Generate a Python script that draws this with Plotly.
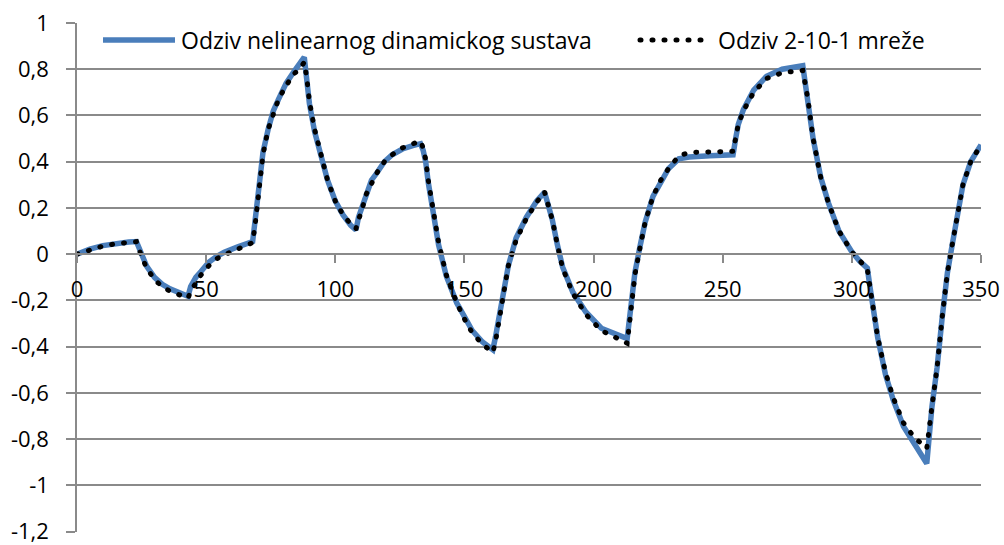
import plotly.graph_objects as go

# Sample index (time step k)
k = [0, 5, 10, 15, 20, 23,
     25, 27, 30, 33, 36, 40, 43,
     44, 46, 48, 51, 54, 57, 62, 66, 68,
     69, 70, 71, 72, 74, 76, 78, 81, 84, 86, 88,
     89, 90, 92, 95, 97, 100, 103, 106, 108,
     109, 110, 112, 114, 116, 119, 122, 126, 130, 133,
     134, 135, 136, 138, 140, 143, 147, 150, 153, 157, 161,
     162, 163, 165, 167, 170, 174, 178, 181,
     182, 184, 186, 188, 192, 197, 203, 208, 213,
     214, 216, 218, 220, 223, 226, 229, 233, 237, 245, 254,
     255, 256, 258, 262, 267, 273, 281,
     282, 283, 285, 288, 291, 295, 300, 303, 306,
     307, 308, 310, 313, 316, 320, 324, 327, 329,
     331, 333, 335, 337, 339, 341, 343, 346, 350]

# Response of the nonlinear dynamic system
y_sustav = [0.0, 0.022, 0.037, 0.047, 0.053, 0.055,
            -0.005, -0.053, -0.10, -0.13, -0.15, -0.172, -0.182,
            -0.14, -0.10, -0.075, -0.035, -0.01, 0.008, 0.031, 0.048, 0.055,
            0.15, 0.26, 0.36, 0.44, 0.54, 0.62, 0.67, 0.74, 0.79, 0.825, 0.852,
            0.75, 0.65, 0.53, 0.40, 0.32, 0.23, 0.17, 0.125, 0.105,
            0.16, 0.19, 0.265, 0.32, 0.35, 0.40, 0.43, 0.455, 0.47, 0.478,
            0.45, 0.40, 0.31, 0.16, 0.04, -0.095, -0.21, -0.27, -0.33, -0.38, -0.413,
            -0.36, -0.30, -0.155, -0.05, 0.07, 0.16, 0.23, 0.268,
            0.23, 0.15, 0.04, -0.055, -0.165, -0.25, -0.32, -0.345, -0.365,
            -0.27, -0.08, 0.035, 0.14, 0.25, 0.315, 0.37, 0.413, 0.42, 0.426, 0.43,
            0.50, 0.56, 0.625, 0.71, 0.77, 0.80, 0.815,
            0.74, 0.67, 0.50, 0.33, 0.22, 0.10, 0.01, -0.03, -0.06,
            -0.14, -0.22, -0.36, -0.52, -0.63, -0.745, -0.82, -0.87, -0.905,
            -0.66, -0.49, -0.27, -0.08, 0.05, 0.19, 0.30, 0.40, 0.473]

# Output of the 2-10-1 neural network
y_mreza = [0.0, 0.02, 0.035, 0.045, 0.052, 0.054,
           -0.01, -0.06, -0.11, -0.14, -0.16, -0.18, -0.19,
           -0.16, -0.12, -0.09, -0.05, -0.02, -0.003, 0.02, 0.04, 0.05,
           0.13, 0.24, 0.34, 0.43, 0.54, 0.61, 0.67, 0.73, 0.78, 0.80, 0.83,
           0.76, 0.66, 0.54, 0.40, 0.32, 0.23, 0.17, 0.13, 0.11,
           0.15, 0.18, 0.26, 0.31, 0.35, 0.40, 0.43, 0.46, 0.48, 0.49,
           0.46, 0.41, 0.32, 0.17, 0.05, -0.09, -0.21, -0.28, -0.34, -0.39, -0.425,
           -0.38, -0.31, -0.16, -0.05, 0.06, 0.155, 0.225, 0.27,
           0.23, 0.15, 0.04, -0.06, -0.17, -0.26, -0.33, -0.36, -0.385,
           -0.29, -0.09, 0.03, 0.14, 0.25, 0.32, 0.37, 0.425, 0.44, 0.443, 0.445,
           0.50, 0.56, 0.62, 0.70, 0.76, 0.785, 0.795,
           0.74, 0.67, 0.50, 0.33, 0.22, 0.10, 0.01, -0.03, -0.065,
           -0.14, -0.22, -0.36, -0.51, -0.62, -0.73, -0.79, -0.82, -0.84,
           -0.66, -0.49, -0.27, -0.08, 0.05, 0.19, 0.30, 0.40, 0.473]

name_sustav = "Odziv nelinearnog dinamickog sustava"
name_mreza = "Odziv 2-10-1 mreže"

y_ticks = [1, 0.8, 0.6, 0.4, 0.2, 0, -0.2, -0.4, -0.6, -0.8, -1, -1.2]
y_tick_text = ["1", "0,8", "0,6", "0,4", "0,2", "0", "-0,2", "-0,4", "-0,6", "-0,8", "-1", "-1,2"]
x_ticks = [0, 50, 100, 150, 200, 250, 300, 350]
x_tick_text = ["0", "50", "100", "150", "200", "250", "300", "350"]

BLUE = "#4A7EBB"
GRID = "#8A8A8A"
FONT = "'Open Sans', Lato, sans-serif"
FSIZE = 22
DOTS = "1px,11px"

fig = go.Figure()
fig.add_trace(go.Scatter(x=k, y=y_sustav, mode="lines", name=name_sustav,
                         line=dict(color=BLUE, width=5.5), showlegend=False))
fig.add_trace(go.Scatter(x=k, y=y_mreza, mode="lines", name=name_mreza,
                         line=dict(color="black", width=5, dash=DOTS),
                         showlegend=False))

# Legend: line samples with their labels along the top of the plot
leg_y = (532 - 40) / 509
fig.add_shape(type="line", xref="paper", yref="paper",
              x0=(103 - 77) / 904, x1=(175 - 77) / 904, y0=leg_y, y1=leg_y,
              line=dict(color=BLUE, width=5.5))
fig.add_shape(type="line", xref="paper", yref="paper",
              x0=(640 - 77) / 904, x1=(706 - 77) / 904, y0=leg_y, y1=leg_y,
              line=dict(color="black", width=5, dash=DOTS))
fig.add_annotation(text=name_sustav, xref="paper", yref="paper",
                   x=(179 - 77) / 904, y=leg_y,
                   xanchor="left", yanchor="middle", showarrow=False,
                   font=dict(size=23, color="black", family=FONT))
fig.add_annotation(text=name_mreza, xref="paper", yref="paper",
                   x=(716 - 77) / 904, y=leg_y,
                   xanchor="left", yanchor="middle", showarrow=False,
                   font=dict(size=23, color="black", family=FONT))

fig.update_layout(
    width=1004, height=545,
    margin=dict(l=77, r=23, t=23, b=13, autoexpand=False),
    paper_bgcolor="white", plot_bgcolor="white",
    font=dict(family=FONT, size=FSIZE, color="black"),
    showlegend=False,
)
fig.update_xaxes(
    range=[0, 350], tickvals=x_ticks, ticktext=x_tick_text,
    showgrid=False, zeroline=False, automargin=False,
    showline=True, linecolor=GRID, linewidth=1.5,
    ticks="outside", ticklen=8, tickcolor=GRID, tickwidth=1.5,
    anchor="free", position=1.2 / 2.2,
    ticklabelstandoff=7,
)
fig.update_yaxes(
    # lower bound nudged a hair below -1.2 so its grid line is kept
    range=[-1.2015, 1], tickvals=y_ticks, ticktext=y_tick_text,
    showgrid=True, gridcolor=GRID, gridwidth=1.5, zeroline=False,
    automargin=False, ticklabeloverflow="allow",
    showline=True, linecolor=GRID, linewidth=1.5,
    ticks="outside", ticklen=9, tickcolor=GRID, tickwidth=1.5,
    ticklabelstandoff=13,
)

# Round line caps turn the short dashes of the network response into dots
round_dots = """
var gd = document.getElementById('{plot_id}');
gd.querySelectorAll('path').forEach(function (p) {
  var d = p.style.strokeDasharray || '';
  if (d.indexOf('11') >= 0) { p.style.strokeLinecap = 'round'; }
});
"""

fig.write_html("out.html", post_script=round_dots)
